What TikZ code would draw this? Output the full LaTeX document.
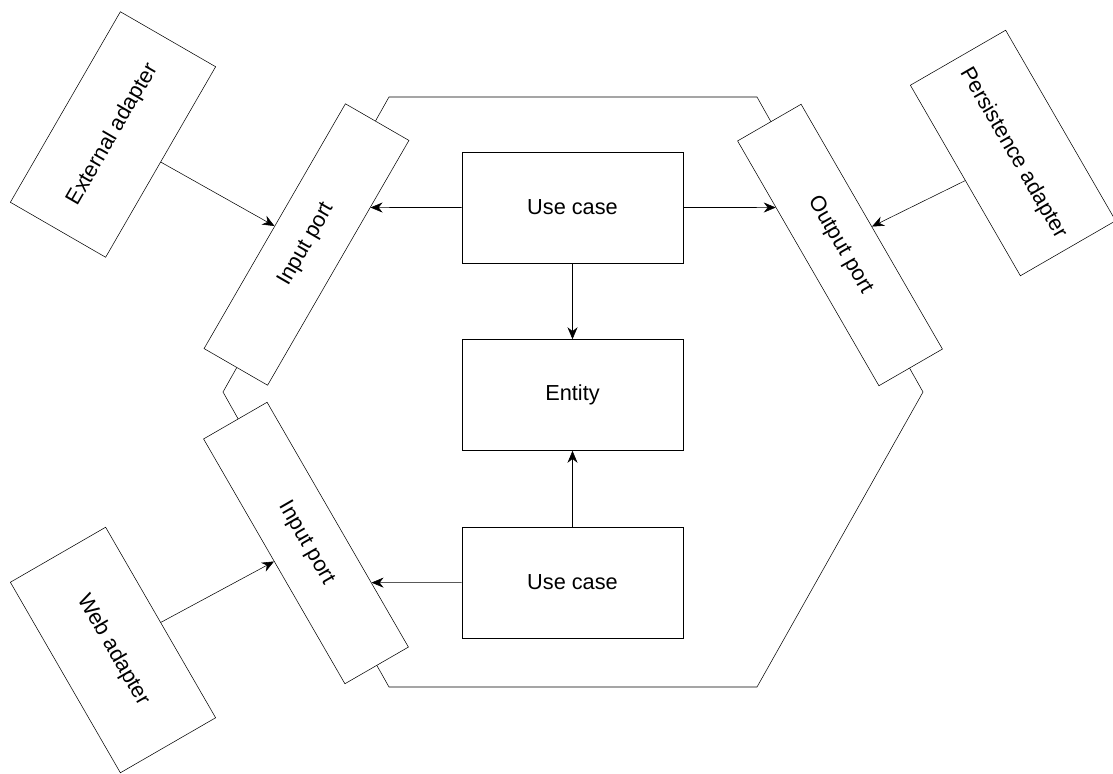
\documentclass[tikz,border=0pt]{standalone}
\usepackage{fontspec}
\setmainfont{Liberation Sans}
\usetikzlibrary{positioning, arrows.meta}
\tikzset{
    x=0.75pt, y=-0.75pt, % one unit is one pixel of the sketch, y runs down
    >={Stealth[length=9pt, width=7.5pt]}, % makes the arrow heads look like draw.io ones
    line width=1.1pt,
    node distance=57pt, % gap between the boxes in the middle
    core/.style={draw, fill=white, minimum width=165.75pt, minimum height=83.25pt}, % use cases and entity
    port/.style={draw, fill=white, minimum width=212pt, minimum height=55pt}, % ports on the hexagon
    adapter/.style={draw, fill=white, minimum width=165pt, minimum height=82.5pt}, % adapters outside
}
\begin{document}
\begin{tikzpicture}[font=\fontsize{16.3}{19}\selectfont]
    \useasboundingbox (0,0) rectangle (1113,774);
    % the hexagon
    \draw (389,97) -- (757,97) -- (923,392) -- (757,687) -- (389,687) -- (223,392) -- cycle;
    % inside
    \node[core] (uc1) at (572.5,207.5) {Use case};
    \node[core, below=of uc1] (ent) {Entity};
    \node[core, below=of ent] (uc2) {Use case};
    % ports
    \node[port, rotate=60] (ip1) at (306.5,244.5) {Input port};
    \node[port, rotate=-60] (ip2) at (306,543) {Input port};
    \node[port, rotate=-60] (op) at (840,245) {Output port};
    % adapters
    \node[adapter, rotate=60] (ext) at (113,134.5) {External adapter};
    \node[adapter, rotate=-60] (web) at (113,650) {Web adapter};
    \node[adapter, rotate=-60] (per) at (1013,153) {Persistence adapter};
    % arrows
    \draw[->] (ext.south) -- (ip1.north);
    \draw[->] (web.north) -- (ip2.south);
    \draw[->] (per.south) -- (op.north);
    \draw[->] (uc1.west) -- (intersection of uc1.west--uc1.east and ip1.south west--ip1.south east);
    \draw[->] (uc1.east) -- (intersection of uc1.west--uc1.east and op.south west--op.south east);
    \draw[->] (uc2.west) -- (intersection of uc2.west--uc2.east and ip2.north west--ip2.north east);
    \draw[->] (uc1) -- (ent);
    \draw[->] (uc2) -- (ent);
\end{tikzpicture}
\end{document}
